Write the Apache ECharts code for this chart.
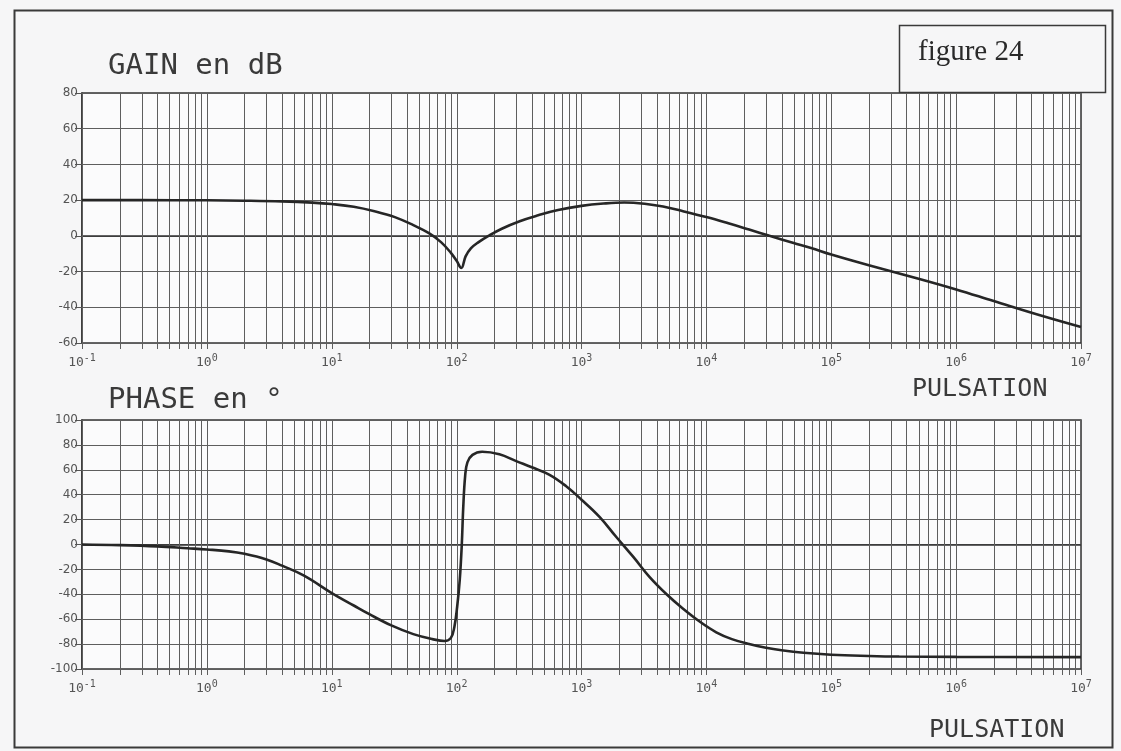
<!DOCTYPE html>
<html><head><meta charset="utf-8">
<script src="https://cdn.jsdelivr.net/npm/echarts@6/dist/echarts.min.js"></script>
<style>html,body{margin:0;padding:0;background:#f6f6f7}#c{width:1121px;height:751px}</style>
</head><body><div id="c"></div>
<script>
// ---- data ----
const gainW  = [0.1, 0.3, 1, 2, 4, 7, 10, 15, 22, 32, 45, 60, 75, 90, 100, 109, 118, 130, 150, 180, 230, 320, 450, 650, 1000, 1500, 2200, 3200, 4500, 6500, 10000, 15000, 22000, 32000, 50000, 70000, 1e5, 2e5, 5e5, 1e6, 2e6, 5e6, 1e7];
const gainDb = [20, 20, 19.9, 19.7, 19.3, 18.6, 17.8, 16.3, 13.8, 10.5, 6, 1.5, -3.5, -9.5, -14, -18, -11.5, -7, -3.5, 0, 4, 8.2, 11.5, 14.5, 16.8, 18.1, 18.7, 18.0, 16.4, 13.8, 10.5, 7, 3.5, 0, -4, -7, -10.5, -16.5, -24, -30, -36.5, -45, -51];
const phaseW   = [0.1, 0.2, 0.4, 0.7, 1, 1.5, 2, 3, 4, 6, 10, 15, 20, 30, 45, 64, 80, 90, 96, 101, 106, 110, 113, 117, 122, 134, 160, 220, 300, 400, 555, 750, 1000, 1400, 1900, 2600, 3500, 4800, 6400, 9000, 12000, 16000, 22000, 30000, 40000, 60000, 1e5, 2e5, 3.5e5, 1e6, 1e7];
const phaseDeg = [0, -0.5, -1.5, -3, -4, -5.5, -7.5, -12, -17, -25, -39, -49, -56, -65, -72, -76, -77.5, -75, -66, -50, -28, 0, 30, 55, 66, 72, 74.5, 72.5, 67, 62, 56, 47, 36, 22, 6, -10, -26, -40, -51, -62.5, -70.5, -76, -80, -83, -85, -87, -88.5, -89.5, -90, -90.3, -90.5];
const gainRange  = [-60, 80];
const phaseRange = [-100, 100];
const yStep = 20;
const xRange = [0.1, 1e7];
const decadeExps = [-1, 0, 1, 2, 3, 4, 5, 6];
const decadeMultipliers = [1, 2, 3, 4, 5, 6, 7, 8, 9];

// vertical log-paper grid positions
const gridX = [];
decadeExps.forEach(e => decadeMultipliers.forEach(m => gridX.push(m * Math.pow(10, e))));
gridX.push(xRange[1]);

const chart = echarts.init(document.getElementById('c'), null, {renderer: 'canvas'});
const gridColor = '#5e5e5e';
const labelColor = '#555';
const mono = '"DejaVu Sans Mono", monospace';

function gridRenderer(yMin, yMax) {
  return function (params, api) {
    const v = api.value(0);
    const p0 = api.coord([v, yMin]);
    const p1 = api.coord([v, yMax]);
    const x = Math.round(p0[0]) + 0.5;
    return {
      type: 'line', silent: true,
      shape: {x1: x, y1: p0[1] + 6, x2: x, y2: p1[1]},
      style: {stroke: gridColor, lineWidth: 1}
    };
  };
}

function xAxisCfg(gi) {
  return {
    type: 'log', logBase: 10, gridIndex: gi, min: xRange[0], max: xRange[1], splitNumber: 8,
    axisLine: {show: true, lineStyle: {color: '#333', width: 1.5}},
    axisTick: {show: false},
    splitLine: {show: false},
    axisLabel: {
      margin: 10, color: labelColor,
      formatter: v => '{b|10}{s|' + Math.round(Math.log10(v)) + '}',
      rich: {
        b: {fontFamily: mono, fontSize: 13, color: labelColor},
        s: {fontFamily: mono, fontSize: 10, color: labelColor, padding: [0, 0, 9, 0]}
      }
    }
  };
}
function yAxisCfg(gi, range) {
  return {
    type: 'value', gridIndex: gi, min: range[0], max: range[1], interval: yStep,
    axisLine: {show: true, lineStyle: {color: '#333', width: 1.5}},
    axisTick: {show: true, length: 7, lineStyle: {color: '#555'}},
    splitLine: {show: true, lineStyle: {color: gridColor, width: 1}},
    axisLabel: {margin: 4, color: labelColor, fontSize: 12, fontFamily: '"DejaVu Sans", sans-serif', padding: [0, 0, 6, 0]}
  };
}

chart.setOption({
  backgroundColor: '#f6f6f7',
  animation: false,
  grid: [
    {left: 82, right: 40, top: 93, height: 250, show: true, backgroundColor: '#fbfbfc', borderColor: '#333', borderWidth: 1.5},
    {left: 82, right: 40, top: 420, height: 249, show: true, backgroundColor: '#fbfbfc', borderColor: '#333', borderWidth: 1.5}
  ],
  xAxis: [xAxisCfg(0), xAxisCfg(1)],
  yAxis: [yAxisCfg(0, gainRange), yAxisCfg(1, phaseRange)],
  series: [
    {type: 'custom', xAxisIndex: 0, yAxisIndex: 0, z: 1, clip: false,
     data: gridX.map(v => [v, gainRange[0]]), renderItem: gridRenderer(gainRange[0], gainRange[1])},
    {type: 'custom', xAxisIndex: 1, yAxisIndex: 1, z: 1, clip: false,
     data: gridX.map(v => [v, phaseRange[0]]), renderItem: gridRenderer(phaseRange[0], phaseRange[1])},
    {type: 'line', xAxisIndex: 0, yAxisIndex: 0, z: 5, symbol: 'none', smooth: 0.4,
     lineStyle: {color: '#262626', width: 2.6},
     data: gainW.map((w, i) => [w, gainDb[i]])},
    {type: 'line', xAxisIndex: 1, yAxisIndex: 1, z: 5, symbol: 'none', smooth: 0.4,
     lineStyle: {color: '#262626', width: 2.6},
     data: phaseW.map((w, i) => [w, phaseDeg[i]])}
  ],
  graphic: [
    {type: 'rect', left: 12, top: 8, shape: {width: 1098, height: 737}, style: {fill: null, stroke: '#3a3a3a', lineWidth: 2}, z: 0},
    {type: 'rect', left: 897, top: 23, shape: {width: 206, height: 67}, style: {fill: null, stroke: '#3a3a3a', lineWidth: 1.5}},
    {type: 'text', left: 918, top: 38, style: {text: 'figure 24', font: '29px "Liberation Serif", serif', fill: '#2a2a2a'}},
    {type: 'text', left: 108, top: 52, style: {text: 'GAIN en dB', font: '29px ' + mono, fill: '#3a3a3a'}},
    {type: 'text', left: 108, top: 386, style: {text: 'PHASE en \u00b0', font: '29px ' + mono, fill: '#3a3a3a'}},
    {type: 'text', left: 912, top: 377, style: {text: 'PULSATION', font: '25px ' + mono, fill: '#3a3a3a'}},
    {type: 'text', left: 929, top: 718, style: {text: 'PULSATION', font: '25px ' + mono, fill: '#3a3a3a'}}
  ]
});
</script>
</body></html>
